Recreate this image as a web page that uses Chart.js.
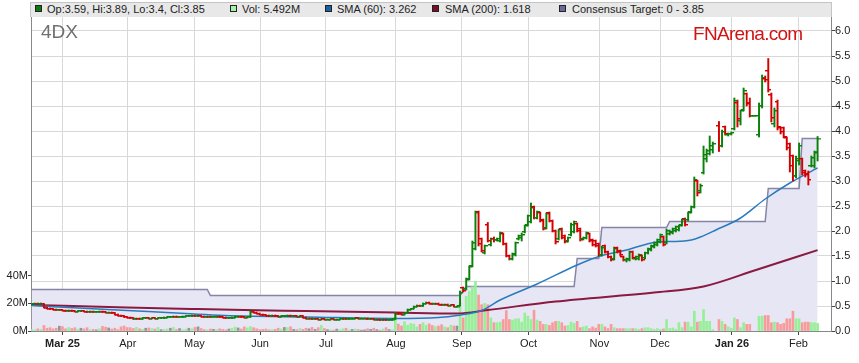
<!DOCTYPE html>
<html><head><meta charset="utf-8">
<script src="https://cdn.jsdelivr.net/npm/chart.js"></script>
<style>
html,body{margin:0;padding:0;background:#fff;}
#wrap{position:relative;width:859px;height:363px;overflow:hidden;font-family:"Liberation Sans",Arial,sans-serif;}
#c{position:absolute;left:0;top:0;}
.lg{position:absolute;left:30px;top:2px;width:802px;height:15px;box-sizing:border-box;background:#e8e8e8;border:1px solid #c4c4c4;border-bottom:none;}
.sq{position:absolute;top:5px;width:7px;height:7px;box-sizing:border-box;border:1px solid #222;}
.tx{position:absolute;top:3px;font-size:11px;line-height:12px;color:#222;white-space:nowrap;}
#code{position:absolute;left:41px;top:22px;font-size:19px;line-height:19px;color:#707070;}
#brand{position:absolute;left:693px;top:24px;font-size:19px;line-height:19px;color:#d01414;letter-spacing:-0.7px;}
</style></head>
<body>
<div id="wrap">
<canvas id="c" width="859" height="363"></canvas>
<div class="lg"></div>
<div class="sq" style="left:35px;background:#0a7a0a"></div><div class="tx" id="t1" style="left:47px"></div>
<div class="sq" style="left:230px;background:#a4f4a4"></div><div class="tx" id="t2" style="left:242px"></div>
<div class="sq" style="left:325px;background:#1a62a6"></div><div class="tx" id="t3" style="left:337px"></div>
<div class="sq" style="left:432px;background:#7c0c2c"></div><div class="tx" id="t4" style="left:445px"></div>
<div class="sq" style="left:559px;background:#6a6a9c"></div><div class="tx" id="t5" style="left:572px"></div>
<div id="code">4DX</div>
<div id="brand">FNArena.com</div>
</div>
<script>
// ---- data (trading-day index 0 = 17 Feb 2025 ... 255 = 11 Feb 2026) ----
const opens = [
.53,.54,.55,.54,.55,.47,.45,.44,.43,.42,
.42,.41,.40,.41,.40,.39,.40,.40,.39,.38,
.39,.38,.38,.39,.38,.37,.37,.36,.33,.31,
.30,.28,.27,.26,.24,.25,.24,.26,.26,.25,
.26,.25,.26,.26,.27,.28,.28,.29,.28,.28,
.29,.30,.30,.31,.30,.30,.29,.28,.29,.28,
.28,.29,.28,.27,.26,.26,.27,.29,.29,.28,
.27,.28,.39,.37,.35,.33,.32,.31,.30,.31,
.30,.29,.30,.30,.31,.30,.30,.29,.30,.27,
.25,.25,.24,.24,.23,.24,.23,.23,.24,.23,
.23,.24,.25,.24,.25,.25,.26,.25,.25,.25,
.24,.24,.23,.23,.22,.23,.22,.22,.24,.35,
.34,.33,.37,.43,.45,.49,.51,.50,.55,.57,
.55,.54,.55,.53,.52,.53,.51,.52,.49,.50,
.86,.84,1.04,1.30,1.64,2.38,1.84,1.56,2.12,1.72,
1.84,1.82,1.80,1.94,1.74,1.50,1.44,1.52,1.84,1.86,
1.98,2.12,2.18,2.48,2.26,2.36,2.22,2.06,2.36,2.20,
2.00,1.84,2.04,1.90,1.80,1.92,1.98,2.14,2.04,1.84,
1.86,1.94,1.82,1.80,1.74,1.52,1.70,1.58,1.48,1.44,
1.66,1.60,1.48,1.42,1.42,1.58,1.44,1.44,1.50,1.46,
1.56,1.62,1.68,1.72,1.78,1.88,1.76,1.94,1.96,2.00,
2.02,2.12,2.24,2.22,2.38,2.48,3.00,2.80,3.16,3.44,
3.54,3.62,null,4.10,3.70,4.08,3.92,3.94,4.04,4.56,
4.20,4.42,4.74,4.56,4.30,4.30,3.92,4.50,5.04,5.20,
4.72,4.14,4.58,4.06,4.06,3.86,3.74,3.50,3.10,3.40,
3.44,3.20,3.14,3.30,3.30,3.59];
const highs = [
.55,.56,.56,.56,.55,.48,.46,.45,.44,.43,
.43,.42,.42,.42,.41,.41,.41,.41,.40,.40,
.40,.39,.40,.40,.39,.38,.38,.37,.34,.32,
.31,.29,.28,.27,.26,.26,.27,.27,.27,.27,
.27,.27,.27,.28,.29,.29,.30,.30,.29,.30,
.31,.31,.32,.32,.31,.31,.30,.30,.30,.29,
.30,.30,.29,.28,.27,.28,.30,.30,.30,.29,
.29,.40,.40,.38,.36,.34,.33,.32,.32,.32,
.31,.31,.31,.32,.32,.31,.31,.31,.31,.28,
.26,.26,.25,.25,.25,.25,.24,.25,.25,.24,
.25,.26,.26,.26,.26,.27,.27,.26,.26,.26,
.25,.25,.24,.24,.24,.24,.23,.24,.37,.36,
.35,.37,.44,.45,.50,.52,.52,.56,.58,.58,
.56,.56,.56,.54,.54,.54,.53,.53,.50,.80,
.88,1.06,1.30,1.80,2.40,2.40,1.86,1.72,2.17,1.86,
1.88,1.86,1.98,1.96,1.76,1.52,1.56,1.78,1.92,1.96,
2.12,2.32,2.56,2.50,2.40,2.38,2.24,2.36,2.38,2.22,
2.02,2.04,2.06,1.92,1.88,2.16,2.20,2.16,2.06,1.88,
1.98,1.96,1.84,1.82,1.76,1.70,1.72,1.60,1.50,1.68,
1.68,1.62,1.50,1.46,1.60,1.60,1.50,1.54,1.52,1.58,
1.66,1.72,1.78,1.84,1.94,1.90,2.04,2.02,2.06,2.10,
2.12,2.24,2.26,2.38,2.50,3.08,3.02,2.94,3.70,3.64,
3.90,3.78,null,4.19,4.02,4.10,3.96,3.98,4.66,4.62,
4.42,4.86,4.76,4.66,4.30,4.30,4.56,5.12,5.10,5.45,
4.76,4.46,4.62,4.08,4.08,3.88,3.76,3.52,3.50,3.76,
3.46,3.22,3.20,3.50,3.60,3.89];
const lows = [
.52,.53,.53,.53,.46,.44,.43,.42,.41,.41,
.40,.39,.39,.39,.38,.38,.39,.38,.37,.37,
.37,.37,.37,.37,.36,.36,.35,.32,.30,.29,
.27,.26,.25,.23,.23,.23,.23,.25,.24,.24,
.24,.24,.25,.25,.26,.27,.27,.27,.27,.27,
.28,.29,.29,.29,.29,.28,.27,.27,.27,.27,
.27,.27,.26,.25,.25,.25,.26,.28,.27,.26,
.26,.27,.36,.34,.32,.31,.30,.29,.29,.29,
.28,.28,.29,.29,.29,.29,.28,.28,.26,.24,
.24,.23,.23,.22,.22,.22,.22,.22,.22,.22,
.22,.23,.23,.23,.24,.24,.24,.24,.24,.23,
.23,.22,.22,.21,.21,.21,.21,.21,.23,.33,
.32,.32,.36,.42,.44,.48,.49,.49,.54,.54,
.53,.53,.52,.51,.51,.50,.50,.48,.48,.50,
.78,.82,1.02,1.28,1.62,1.70,1.58,1.54,1.78,1.70,
1.78,1.80,1.78,1.72,1.48,1.42,1.42,1.50,1.82,1.80,
1.96,2.10,2.16,2.24,2.24,2.18,2.02,2.04,2.18,1.98,
1.74,1.82,1.84,1.76,1.78,1.90,1.96,1.98,1.80,1.82,
1.84,1.78,1.70,1.68,1.50,1.50,1.56,1.46,1.40,1.42,
1.56,1.50,1.40,1.38,1.40,1.44,1.42,1.42,1.40,1.44,
1.54,1.60,1.66,1.70,1.76,1.70,1.74,1.92,1.94,1.98,
2.00,2.10,2.10,2.20,2.36,2.46,2.70,2.76,3.14,3.38,
3.52,3.56,null,3.59,3.68,3.92,3.90,3.92,4.02,4.08,
4.12,4.40,4.50,4.28,4.30,4.30,3.88,4.46,4.98,4.78,
4.18,4.08,4.02,3.94,3.86,3.62,3.18,3.00,3.06,3.32,
3.12,3.08,2.92,3.28,3.26,3.40];
const closes = [
.54,.55,.54,.55,.47,.45,.44,.43,.42,.42,
.41,.40,.41,.40,.39,.40,.40,.39,.38,.39,
.38,.38,.39,.38,.37,.37,.36,.33,.31,.30,
.28,.27,.26,.24,.25,.24,.26,.26,.25,.26,
.25,.26,.26,.27,.28,.28,.29,.28,.28,.29,
.30,.30,.31,.30,.30,.29,.28,.29,.28,.28,
.29,.28,.27,.26,.26,.27,.29,.29,.28,.27,
.28,.39,.37,.35,.33,.32,.31,.30,.31,.30,
.29,.30,.30,.31,.30,.30,.29,.30,.27,.25,
.25,.24,.24,.23,.24,.23,.23,.24,.23,.23,
.24,.25,.24,.25,.25,.26,.25,.25,.25,.24,
.24,.23,.23,.22,.23,.22,.22,.23,.35,.34,
.33,.36,.43,.44,.49,.51,.50,.55,.57,.55,
.54,.55,.53,.52,.53,.51,.52,.49,.49,.76,
.80,1.02,1.28,1.76,2.36,1.74,1.60,1.70,1.80,1.84,
1.82,1.84,1.96,1.74,1.50,1.44,1.54,1.76,1.90,1.92,
2.10,2.30,2.46,2.26,2.38,2.20,2.04,2.34,2.20,2.00,
1.78,2.02,1.86,1.78,1.86,2.12,2.18,2.00,1.82,1.86,
1.96,1.80,1.72,1.70,1.52,1.66,1.58,1.48,1.42,1.64,
1.58,1.52,1.42,1.44,1.58,1.46,1.48,1.52,1.42,1.56,
1.64,1.70,1.76,1.82,1.92,1.72,2.00,1.98,2.04,2.08,
2.10,2.22,2.12,2.36,2.48,3.02,2.76,2.90,3.52,3.60,
3.70,3.74,null,3.70,3.98,3.94,3.94,3.96,4.60,4.24,
4.40,4.80,4.54,4.30,4.30,4.30,4.50,5.06,5.02,4.82,
4.26,4.40,4.08,3.98,3.88,3.66,3.30,3.10,3.44,3.70,
3.16,3.12,3.02,3.46,3.56,3.85];
// volume in millions of shares
const volumes = [
1.0,0.8,1.5,1.2,4.0,2.0,2.4,1.5,2.0,3.5,
3.2,1.6,2.5,1.8,2.4,1.2,2.0,1.5,2.4,1.0,
1.2,0.8,1.6,3.3,2.8,2.2,1.4,2.0,1.0,3.0,
3.6,2.5,2.4,1.8,2.6,1.6,1.2,2.0,2.2,1.8,
1.4,2.6,1.0,1.2,1.4,2.0,2.6,1.0,1.8,0.8,
1.2,2.0,1.6,2.6,3.0,1.8,1.0,0.8,1.4,1.2,
1.0,1.6,1.2,0.8,1.4,2.0,2.8,2.2,1.4,3.0,
2.2,3.2,2.4,1.6,1.0,1.2,1.4,0.8,1.0,1.2,
2.0,1.4,2.6,2.4,3.0,1.2,1.0,1.8,1.2,2.0,
1.6,2.6,1.2,2.4,4.0,1.8,1.0,0.8,0.6,1.4,
1.0,1.6,2.0,0.8,1.2,1.4,1.0,0.6,0.8,1.6,
1.2,2.0,1.0,0.6,1.4,2.4,1.0,0.8,12.0,5.0,
3.6,6.8,4.2,5.4,5.0,3.0,4.8,6.0,4.2,5.2,
4.0,3.2,3.6,4.6,3.0,2.4,4.2,3.6,3.6,20.0,
9.5,25,28.6,32,36,26,19,20,19,9.5,
6,6,6.4,8.3,14.8,8.3,7.9,8.8,8.8,6.4,
13,10.7,8.3,15,7.9,7,4.8,4.8,4,6,
7,7,6,3.6,4,6.4,5.5,7,2.4,3,
3.6,1.7,3,2.1,4.8,4.8,3,1.7,4.8,2.4,
1.7,1.7,1.7,1.7,1.7,1.7,1.7,1.2,1.7,2.4,
2.4,1.7,1.2,1.7,1.2,1.5,8.3,1.8,2.2,1.2,
6.0,2.4,6.4,6.4,3.0,14.3,6.4,7.0,15.5,7.0,
7.0,1.0,null,8.3,7.0,4.8,3.0,2.0,9.5,8.3,
2.4,6.0,4.8,4.8,0,0,10.7,10.7,11.2,11.2,
6.0,6.4,6.0,4.8,5.5,8.8,8.8,14.3,8.8,8.8,
6.0,6.4,6.4,6.0,6.0,5.492];
const sma60Idx = [0,31,53,69,89,118,132,138,146,152,164,177,184,193,203,208,214,217,222,230,238,246,255];
const sma60Val = [0.51,0.41,0.34,0.30,0.28,0.25,0.27,0.31,0.41,0.62,0.94,1.32,1.49,1.62,1.78,1.79,1.82,1.88,2.02,2.26,2.64,2.96,3.262];
const sma200Idx = [0,31,53,69,89,118,138,148,170,202,218,235,255];
const sma200Val = [0.52,0.47,0.44,0.42,0.40,0.37,0.35,0.42,0.59,0.77,0.89,1.22,1.618];
const targetIdx = [0,57,58,139,141,176,177,184,185,206,207,238,239,249,250,255];
const targetVal = [0.83,0.83,0.71,0.71,0.89,0.89,1.45,1.45,2.07,2.07,2.19,2.19,2.85,2.85,3.85,3.85];
const monthLabels = ['Mar 25','Apr','May','Jun','Jul','Aug','Sep','Oct','Nov','Dec','Jan 26','Feb'];
const monthPos = [10,31.2,52.8,74.1,95.5,118.2,139.6,161.2,184.2,203.9,227.2,248.8];
const volTicks = [0,20,40];

// ---- legend texts from the data ----
const L = closes.length - 1;
document.getElementById('t1').textContent = `Op:${opens[L]}, Hi:${highs[L]}, Lo:${lows[L]}, Cl:${closes[L]}`;
document.getElementById('t2').textContent = `Vol: ${volumes[L]}M`;
document.getElementById('t3').textContent = `SMA (60): ${sma60Val[sma60Val.length-1]}`;
document.getElementById('t4').textContent = `SMA (200): ${sma200Val[sma200Val.length-1]}`;
document.getElementById('t5').textContent = `Consensus Target: 0 - ${targetVal[targetVal.length-1]}`;

// ---- build datasets ----
const G = '#0b800b', R = '#d40000';
const VG = 'rgb(150,240,150)', VR = 'rgb(248,155,155)', VN = 'rgb(150,150,150)';
function tickImg(color, left){
  const cv = document.createElement('canvas'); cv.width = 6; cv.height = 2;
  const g = cv.getContext('2d'); g.fillStyle = color;
  g.fillRect(left ? 0 : 3, 0, 3, 1);
  g.globalAlpha = 0.45; g.fillRect(left ? 0 : 3, 1, 3, 1);
  return cv;
}
const OG = tickImg(G, true), OR = tickImg(R, true), CG = tickImg(G, false), CR = tickImg(R, false);
const isUp = i => closes[i] >= opens[i];

const hl = [], op = [], cl = [], vol = [];
for (let i = 0; i < closes.length; i++) {
  if (closes[i] == null) continue;
  hl.push({x: i, y: [lows[i], highs[i]]});
  op.push({x: i, y: opens[i]});
  cl.push({x: i, y: closes[i]});
  if (volumes[i]) vol.push({x: i, y: volumes[i]});
}
const pts = (ix, vs) => ix.map((x, k) => ({x, y: vs[k]}));

Chart.defaults.font.family = "'Liberation Sans', Arial, sans-serif";
Chart.defaults.font.size = 11;
Chart.defaults.color = '#222';

new Chart(document.getElementById('c'), {
  type: 'bar',
  data: { datasets: [
    {type:'scatter', label:'open', data: op, xAxisID:'x', yAxisID:'y', order:1,
     pointRadius:2, pointStyle: ctx => (ctx.raw && isUp(ctx.raw.x)) ? OG : OR},
    {type:'scatter', label:'close', data: cl, xAxisID:'x', yAxisID:'y', order:1,
     pointRadius:2, pointStyle: ctx => (ctx.raw && isUp(ctx.raw.x)) ? CG : CR},
    {type:'bar', label:'range', data: hl, xAxisID:'x', yAxisID:'y', order:2, grouped:false,
     barThickness:1.3, backgroundColor: ctx => (ctx.raw && isUp(ctx.raw.x)) ? G : R},
    {type:'line', label:'SMA (60)', data: pts(sma60Idx, sma60Val), xAxisID:'x', yAxisID:'y', order:4,
     borderColor:'#2a7bbd', borderWidth:1.5, pointRadius:0, cubicInterpolationMode:'monotone', fill:false},
    {type:'line', label:'SMA (200)', data: pts(sma200Idx, sma200Val), xAxisID:'x', yAxisID:'y', order:5,
     borderColor:'#8a1a40', borderWidth:2, pointRadius:0, cubicInterpolationMode:'monotone', fill:false},
    {type:'bar', label:'Vol', data: vol, xAxisID:'x', yAxisID:'yv', order:6, grouped:false,
     barThickness:2, backgroundColor: ctx => {
       if (!ctx.raw) return VN; const i = ctx.raw.x;
       return closes[i] > opens[i] ? VG : (closes[i] < opens[i] ? VR : VN);
     }},
    {type:'line', label:'Consensus Target', data: pts(targetIdx, targetVal), xAxisID:'x', yAxisID:'y', order:7,
     borderColor:'#8585a8', borderWidth:1.5, backgroundColor:'#e6e6f5', fill:'origin', pointRadius:0, tension:0}
  ]},
  options: {
    responsive:false, animation:false, events:[],
    layout:{padding:{top:17,left:0,right:0,bottom:0}},
    plugins:{legend:{display:false}, tooltip:{enabled:false}},
    scales:{
      x:{type:'linear', position:'bottom', min:-0.2, max:259.35, offset:false,
         grid:{color:'#d8d8d8', tickColor:'#444', tickLength:4, offset:false},
         border:{color:'#888'},
         afterBuildTicks: s => { s.ticks = monthPos.map(v => ({value:v})); },
         ticks:{autoSkip:false, maxRotation:0, minRotation:0, padding:2, color:'#222',
           callback:(v, i) => monthLabels[i],
           font: ctx => ({size:11, weight: /\d/.test(monthLabels[ctx.index] || '') ? 'bold' : 'normal'})},
         afterFit: s => { s.height = 32; }},
      y:{type:'linear', position:'right', min:0, max:6.28,
         grid:{color:'#d8d8d8', tickColor:'#444', tickLength:4},
         border:{color:'#888'},
         ticks:{stepSize:0.5, includeBounds:false, padding:0, color:'#222', callback: v => Number(v).toFixed(1)},
         afterFit: s => { s.width = 28; }},
      yv:{type:'linear', position:'left', min:0, max:227,
         grid:{drawOnChartArea:false, tickColor:'#444', tickLength:3},
         border:{color:'#888'},
         afterBuildTicks: s => { s.ticks = volTicks.map(v => ({value:v})); },
         ticks:{padding:0, color:'#222', callback: v => v + 'M'},
         afterFit: s => { s.width = 31; }}
    }
  }
});
</script>
</body></html>
